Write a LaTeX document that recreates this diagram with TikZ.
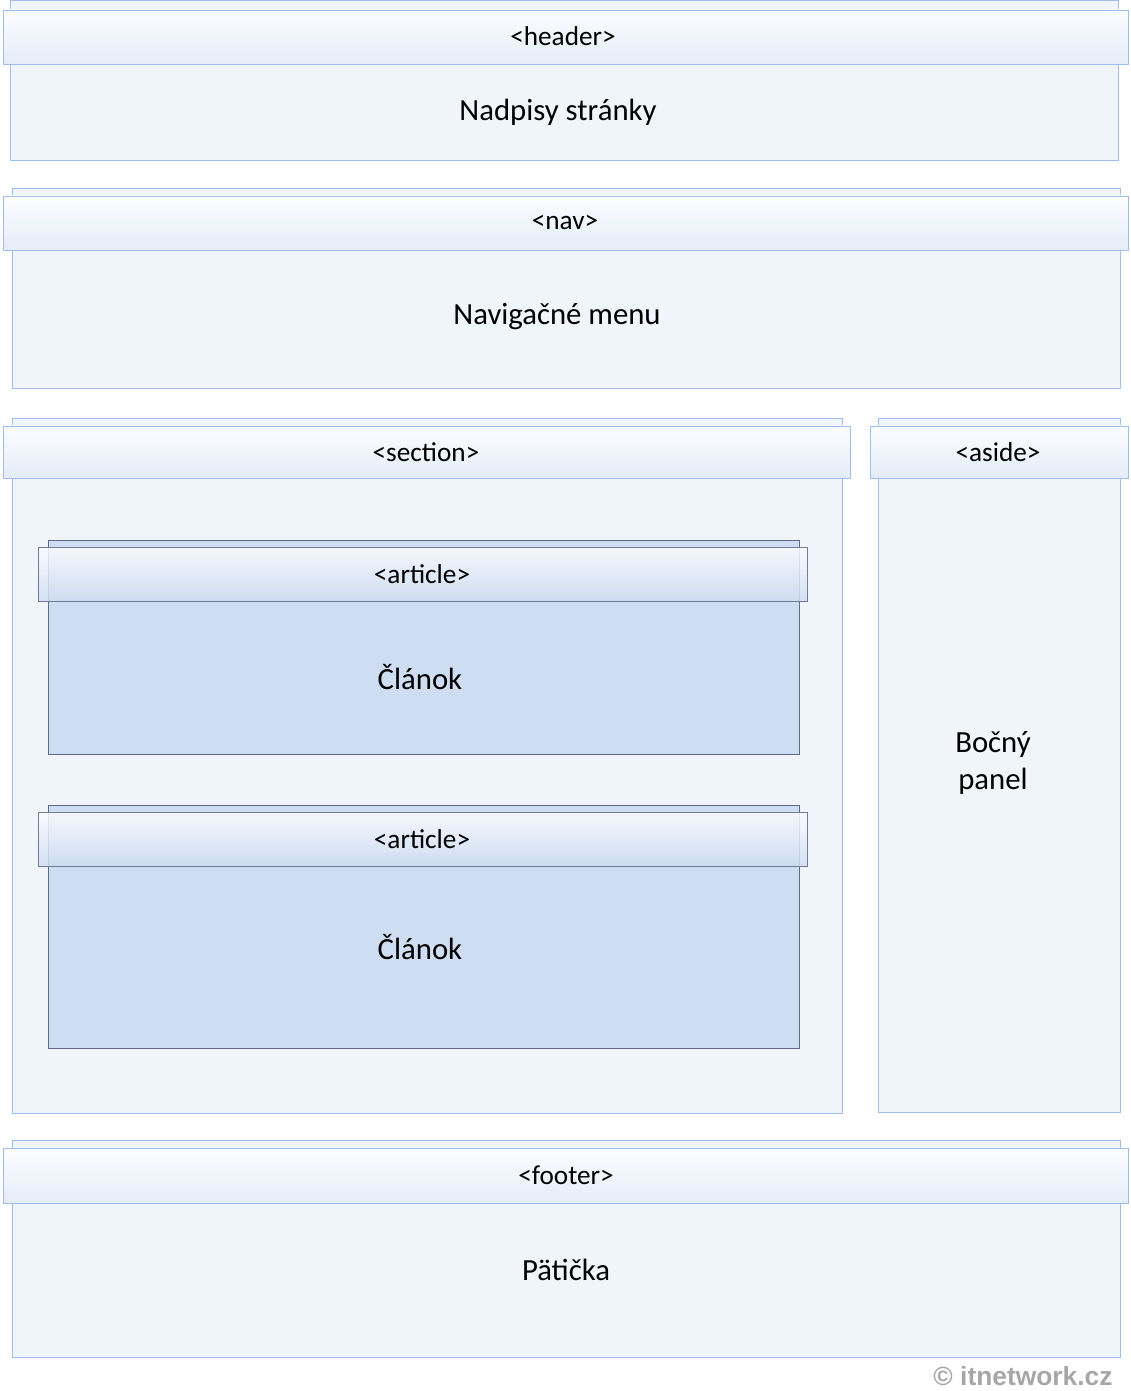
\documentclass[tikz,border=0pt]{standalone}
\usepackage{fontspec}
\setmainfont{Carlito}
\newfontfamily\copyfont{Liberation Sans}
\definecolor{boxline}{RGB}{160,190,235}
\definecolor{boxfill}{RGB}{240,245,252}
\definecolor{artline}{RGB}{95,105,135}
\definecolor{artfill}{RGB}{206,221,242}
\definecolor{bandtop}{RGB}{252,253,255}
\definecolor{bandbot}{RGB}{228,236,248}
\begin{document}
\begin{tikzpicture}[x=0.02cm,y=-0.02cm]
	\tikzstyle{block}=[draw=boxline,fill=boxfill]
	\tikzstyle{band}=[draw=boxline,top color=bandtop,bottom color=bandbot]
	\tikzstyle{artblock}=[draw=artline,fill=artfill]
	\tikzstyle{artband}=[draw=artline,top color=bandtop,bottom color=artfill,opacity=0.85]
	\tikzstyle{tag}=[font=\fontsize{15.5}{17}\selectfont]
	\tikzstyle{title}=[font=\fontsize{17.5}{21}\selectfont,align=center]
	
	\useasboundingbox (0,0) rectangle (1131,1391);
	
	% header
	\draw[block] (10,0) rectangle (1118,160);
	\draw[band] (3,10) rectangle (1128,64);
	\node[tag](header) at (563,36){<header>};
	\node[title](headerText) at (558,112){Nadpisy stránky};
	
	% nav
	\draw[block] (12,188) rectangle (1120,388);
	\draw[band] (3,196) rectangle (1128,250);
	\node[tag](nav) at (565,222){<nav>};
	\node[title](navText) at (557,317){Navigačné menu};
	
	% section
	\draw[block] (12,418) rectangle (842,1113);
	\draw[band] (3,426) rectangle (850,478);
	\node[tag](section) at (426,452){<section>};
	
	% aside
	\draw[block] (878,418) rectangle (1120,1112);
	\draw[band] (870,426) rectangle (1128,478);
	\node[tag](aside) at (998,452){<aside>};
	\node[title](asideText) at (993,763){Bočný\\panel};
	
	% articles
	\foreach \top/\bot/\ty/\nm in {540/754/677/articleA,805/1048/947/articleB}{
		\draw[artblock] (48,\top) rectangle (799,\bot);
		\draw[artband] (38,\top+7) rectangle (807,\top+61);
		\node[tag](\nm) at (422,\top+34){<article>};
		\node[title](\nm Text) at (420,\ty){Článok};
	}
	
	% footer
	\draw[block] (12,1140) rectangle (1120,1357);
	\draw[band] (3,1148) rectangle (1128,1203);
	\node[tag](footer) at (566,1175){<footer>};
	\node[title](footerText) at (566,1270){Pätička};
	
	\node[font=\copyfont\fontsize{15}{17}\selectfont\bfseries,text=black!35](copy) at (1023,1376){© itnetwork.cz};
\end{tikzpicture}
\end{document}
